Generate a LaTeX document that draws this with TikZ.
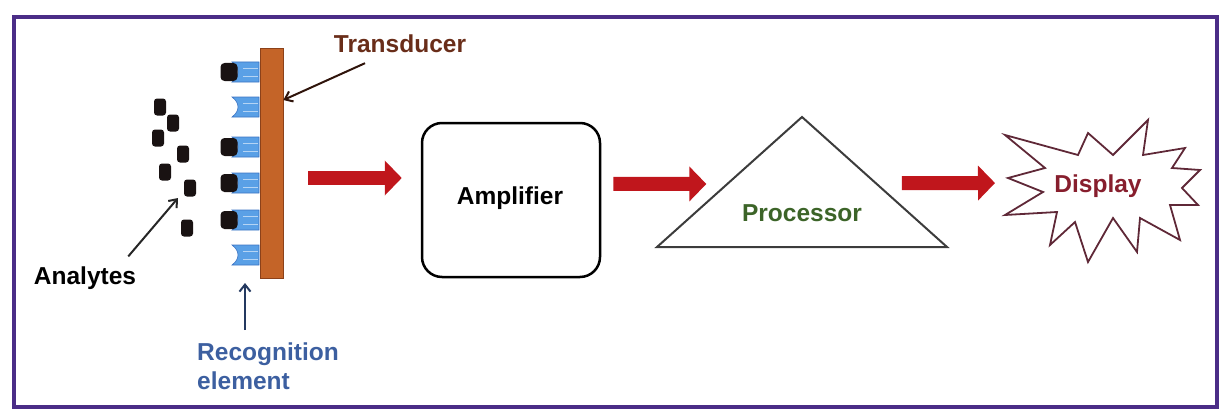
\documentclass[tikz,border=0pt]{standalone}
\usepackage{fontspec}
\setmainfont{Liberation Sans}
\usetikzlibrary{positioning, calc, arrows.meta}

\definecolor{framepurple}{RGB}{75,45,135}
\definecolor{barorange}{RGB}{196,100,40}
\definecolor{baredge}{RGB}{140,65,25}
\definecolor{recblue}{RGB}{90,160,230}
\definecolor{recedge}{RGB}{60,115,195}
\definecolor{anablack}{RGB}{25,18,18}
\definecolor{transbrown}{RGB}{105,45,25}
\definecolor{reclabel}{RGB}{60,95,160}
\definecolor{procgreen}{RGB}{60,100,40}
\definecolor{dispred}{RGB}{135,30,45}
\definecolor{burstedge}{RGB}{95,40,55}
\definecolor{arrowred}{RGB}{192,22,28}
\definecolor{trigray}{RGB}{60,60,60}

\begin{document}
\begin{tikzpicture}[x=1pt, y=-1pt,
		lbl/.style={font=\fontsize{24.5}{29}\selectfont\bfseries, inner sep=0pt},
		box/.style={draw=black, line width=2.5pt, rounded corners=20pt, minimum width=178pt, minimum height=154pt, inner sep=0pt},
		flow/.style={draw=arrowred, line width=14pt, -{Triangle[length=17pt, width=34pt]}},
		pointer/.style={line width=2pt, -{Straight Barb[length=7pt, width=11pt]}},
		freeana/.style={fill=anablack, rounded corners=3pt, minimum width=12pt, minimum height=17pt, inner sep=0pt},
		boundana/.style={fill=anablack, rounded corners=4pt, minimum width=17pt, minimum height=18pt, inner sep=0pt}]
	\useasboundingbox (0,0) rectangle (1220,412);
	\draw[framepurple, line width=4pt] (14,17) rectangle (1217,407);

	% sensor: transducer, receptors, analytes
	\node[fill=barorange, draw=baredge, line width=0.8pt, minimum width=23pt, minimum height=230pt, inner sep=0pt] (bar) at (271.5,163) {};
	\foreach \y [count=\i] in {72,107,147,183,220,255} {
		\fill[recblue, draw=recedge, line width=0.6pt] (232,{\y-10}) -- (259,{\y-10}) -- (259,{\y+10}) -- (232,{\y+10}) .. controls (240,{\y+4}) and (240,{\y-4}) .. (232,{\y-10}) -- cycle;
		\draw[recblue!45, line width=0.8pt] (243,{\y-4}) -- (258,{\y-4}) (243,{\y+4}) -- (258,{\y+4});
		\coordinate (rc\i) at (245,{\y+10});
	}
	\foreach \y in {72,147,183,220}
		\node[boundana] (b\y) at (229,\y) {};
	\foreach \x/\y [count=\i] in {160/107, 173/123, 158/138, 183/154, 165/172, 190/188, 187/228}
		\node[freeana] (f\i) at (\x,\y) {};

	\node[lbl, text=transbrown] (trans) at (400,44) {Transducer};
	\node[lbl] (ana) at (85,278) {Analytes};
	\node[lbl, text=reclabel, align=left, anchor=north west] (rec) at (197,343) {Recognition\\element};

	\draw[pointer, draw=black!85] ($(ana.north east)+(-8,-10)$) -- ($(f6)+(-12,10)$);
	\draw[pointer, draw=transbrown!45!black] ($(trans.south)+(-35,10)$) -- (bar.east |- 0,100);
	\draw[pointer, draw=reclabel!60!black, shorten >=18pt] ($(rec.north west -| rc6)+(0,-13)$) -- (rc6);

	% signal chain
	\node[box] (amp) at (511,200) {};
	\node[lbl] (amplbl) at (510,198) {Amplifier};

	\coordinate (papex) at (802,117);
	\coordinate (pleft) at (657,247);
	\coordinate (pright) at (947,247);
	\draw[trigray, line width=2pt, line join=miter] (papex) -- (pleft) -- (pright) -- cycle;
	\node[lbl, text=procgreen] (proc) at (802,213) {Processor};

	\draw[burstedge, line width=1.8pt] (1005,135) -- (1078,155) -- (1088,133) -- (1113,155) -- (1148,120) -- (1143,155)
		-- (1185,148) -- (1172,168) -- (1200,170) -- (1182,188) -- (1198,205) -- (1170,205) -- (1180,240)
		-- (1140,218) -- (1137,252) -- (1113,218) -- (1088,262) -- (1075,222) -- (1050,245) -- (1057,212)
		-- (1005,215) -- (1043,192) -- (1008,178) -- (1045,168) -- cycle;
	\coordinate (dleft) at (1008,183);
	\node[lbl, text=dispred] (disp) at (1098,186) {Display};

	\draw[flow, shorten <=25pt, shorten >=19pt] (bar.east |- 0,178) -- (amp.west |- 0,178);
	\draw[flow, shorten <=12pt, shorten >=21pt] (amp.east |- 0,184) -- ($(pleft)!.485!(papex)$);
	\draw[flow, shorten <=26pt, shorten >=13pt] ($(pright)!.49!(papex)$) -- (dleft);
\end{tikzpicture}
\end{document}
